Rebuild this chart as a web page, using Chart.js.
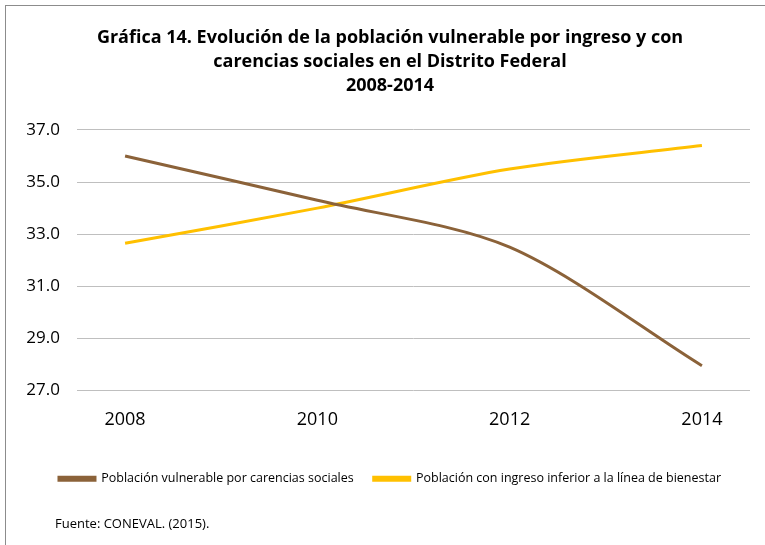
<!DOCTYPE html>
<html>
<head>
<meta charset="utf-8">
<script src="https://cdn.jsdelivr.net/npm/chart.js@4"></script>
<style>
  body { margin: 0; background: #fff; }
  #wrap { position: relative; width: 765px; height: 545px; }
  #frame { position: absolute; left: 5px; top: 5px; width: 780px; height: 560px; border: 1px solid #8c8c8c; box-sizing: border-box; }
  #fuente { position: absolute; left: 55px; top: 514px; font: 13px "Open Sans", sans-serif; color: #000; }
</style>
</head>
<body>
<div id="wrap">
  <div id="frame"></div>
  <canvas id="chart" width="765" height="545"></canvas>
  <div id="fuente">Fuente: CONEVAL. (2015).</div>
</div>
<script>
const years = [2008, 2010, 2012, 2014];
const carencias = [36.0, 34.3, 32.5, 27.95];
const ingreso = [32.65, 34.0, 35.5, 36.4];
const yTicks = [27, 29, 31, 33, 35, 37];

const toPoints = (vals) => vals.map((v, i) => ({ x: years[i], y: v }));

const ctx = document.getElementById('chart').getContext('2d');
const chart = new Chart(ctx, {
    type: 'line',
    data: {
        datasets: [
            {
                label: 'Población vulnerable por carencias sociales',
                data: toPoints(carencias),
                borderColor: '#8b6239',
                backgroundColor: '#8b6239',
                borderWidth: 3,
                pointRadius: 0,
                tension: 0.3
            },
            {
                label: 'Población con ingreso inferior a la línea de bienestar',
                data: toPoints(ingreso),
                borderColor: '#ffc000',
                backgroundColor: '#ffc000',
                borderWidth: 3,
                pointRadius: 0,
                tension: 0.3
            }
        ]
    },
    options: {
        responsive: false,
        animation: false,
        layout: { padding: { left: 15, right: 0, top: 0, bottom: 50 } },
        plugins: {
            title: {
                display: true,
                text: ['Gráfica 14. Evolución de la población vulnerable por ingreso y con',
                       'carencias sociales en el Distrito Federal', '2008-2014'],
                color: '#000',
                font: { family: 'Open Sans', size: 18, weight: 'bold', lineHeight: 1.333 },
                padding: { top: 26, bottom: 32 }
            },
            legend: {
                position: 'bottom',
                align: 'center',
                labels: {
                    color: '#000',
                    boxWidth: 36,
                    boxHeight: 3,
                    padding: 20,
                    font: { family: 'Open Sans', size: 12.5 }
                }
            },
            tooltip: { enabled: false }
        },
        scales: {
            x: {
                type: 'linear',
                min: 2007.5,
                max: 2014.5,
                afterBuildTicks: (scale) => { scale.ticks = years.map(v => ({ value: v })); },
                afterFit: (scale) => { scale.height = 62; },
                grid: { display: false },
                border: { display: false },
                ticks: {
                    color: '#000',
                    padding: 11,
                    font: { family: 'Open Sans', size: 18 },
                    callback: (v) => String(v)
                }
            },
            y: {
                min: 27,
                max: 37,
                afterBuildTicks: (scale) => { scale.ticks = yTicks.map(v => ({ value: v })); },
                afterFit: (scale) => { scale.width = 62; },
                grid: { color: '#bfbfbf', lineWidth: 1, drawTicks: false },
                border: { display: false },
                ticks: {
                    color: '#000',
                    padding: 17,
                    font: { family: 'Open Sans', size: 17 },
                    callback: (v) => v.toFixed(1)
                }
            },
            yRight: {
                position: 'right',
                min: 27,
                max: 37,
                afterFit: (scale) => { scale.width = 15; },
                grid: { display: false },
                border: { display: false },
                ticks: { display: false }
            }
        }
    }
});
</script>
</body>
</html>
